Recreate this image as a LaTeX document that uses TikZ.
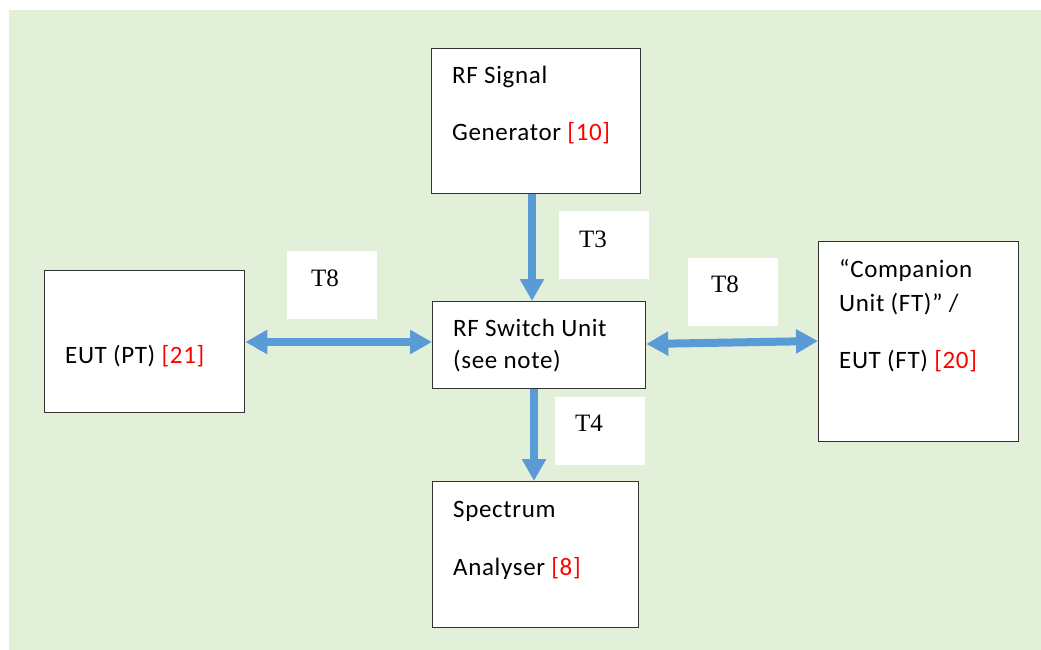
\documentclass[tikz,border=0pt]{standalone}
\usepackage{fontspec}
\setmainfont[LetterSpace=2.6]{Carlito}
\newfontfamily\tnr{Liberation Serif}
\usetikzlibrary{arrows.meta}
\definecolor{bggreen}{HTML}{E2EFD9}
\definecolor{arrblue}{HTML}{5B9BD5}
\definecolor{refred}{HTML}{FF0000}
\definecolor{boxline}{HTML}{333333}
\begin{document}
\begin{tikzpicture}[x=1pt,y=-1pt,
  box/.style={draw=boxline, line width=1.3pt, fill=white, anchor=north west, inner sep=0pt},
  lbl/.style={fill=white, draw=none, anchor=north west, inner sep=0pt, minimum width=90pt, minimum height=68pt},
  txt/.style={anchor=base west, inner sep=0pt, font=\fontsize{25}{30}\selectfont},
  ttxt/.style={anchor=base west, inner sep=0pt, font=\tnr\fontsize{25}{30}\selectfont},
  arr/.style={draw=arrblue, line width=8pt, -{Triangle[width=23pt,length=22pt]}},
  darr/.style={draw=arrblue, line width=8pt, {Triangle[width=23pt,length=22pt]}-{Triangle[width=23pt,length=22pt]}}
]
\useasboundingbox (0,0) rectangle (1041,650);
\fill[bggreen] (9,10) rectangle (1041,650);

% boxes
\node[box, minimum width=209pt, minimum height=145pt] (gen) at (431,48) {};
\node[box, minimum width=213pt, minimum height=87pt] (sw) at (432,301) {};
\node[box, minimum width=200pt, minimum height=142pt] (eut) at (44,270) {};
\node[box, minimum width=200pt, minimum height=200pt] (comp) at (818,241) {};
\node[box, minimum width=206pt, minimum height=146pt] (sa) at (432,481) {};

% label backgrounds
\node[lbl] (l3) at (559,211) {};
\node[lbl] (l8a) at (287,251) {};
\node[lbl] (l8b) at (688,258) {};
\node[lbl] (l4) at (555,397) {};

% texts
\node[txt] (gen1) at (452,84) {RF Signal};
\node[txt] (gen2) at (452,141) {Generator \textcolor{refred}{[10]}};
\node[txt] (sw1) at (453,336) {RF Switch Unit};
\node[txt] (sw2) at (453,368) {(see note)};
\node[txt] (eut1) at (65,363) {EUT (PT) \textcolor{refred}{[21]}};
\node[txt] (comp1) at (839,277) {“Companion};
\node[txt] (comp2) at (839,311) {Unit (FT)” /};
\node[txt] (comp3) at (839,368) {EUT (FT) \textcolor{refred}{[20]}};
\node[txt] (sa1) at (453,517) {Spectrum};
\node[txt] (sa2) at (453,575) {Analyser \textcolor{refred}{[8]}};

\node[ttxt] (t3) at (579,247) {T3};
\node[ttxt] (t8a) at (311,286) {T8};
\node[ttxt] (t8b) at (711,292) {T8};
\node[ttxt] (t4) at (575,431) {T4};

% connectors
\coordinate (vx) at (532,0);
\coordinate (vb) at (534,0);
\coordinate (hl) at (0,342);
\coordinate (hr1) at (0,344);
\coordinate (hr2) at (0,341);
\draw[arr] (gen.south -| vx) -- (sw.north -| vx);
\draw[arr] (sw.south -| vb) -- (sa.north -| vb);
\draw[darr] (eut.east |- hl) -- (sw.west |- hl);
\draw[darr] (sw.east |- hr1) -- (comp.west |- hr2);
\end{tikzpicture}
\end{document}
